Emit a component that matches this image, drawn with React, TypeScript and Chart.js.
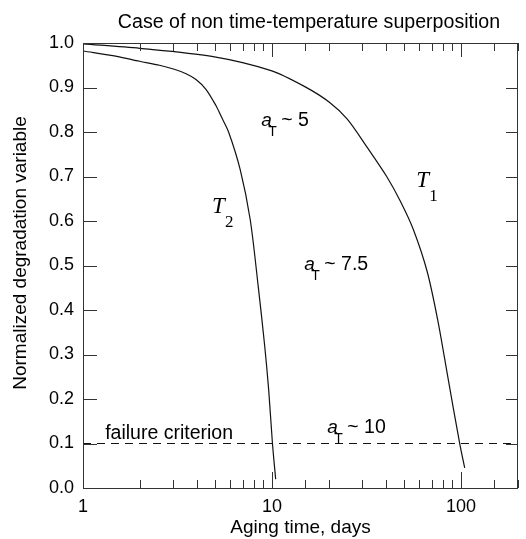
import React, { useEffect, useRef } from 'react';
import { Chart, registerables } from 'chart.js';

Chart.register(...registerables);

// ---- data ----
const t1Days = [1, 2, 4.8, 9.88, 14.9, 20.1, 25, 31.8, 40.4, 47.8, 55.9, 66.2, 75.5, 85.2, 98.4, 104.5];
const t1Values = [0.998, 0.988, 0.97, 0.938, 0.902, 0.867, 0.829, 0.766, 0.7, 0.644, 0.581, 0.486, 0.374, 0.248, 0.099, 0.045];
const t2Days = [1, 1.51, 1.99, 2.54, 3.04, 3.51, 3.96, 4.47, 5.04, 5.41, 5.89, 6.78, 7.66, 8.45, 9.15, 9.6, 10.05, 10.45];
const t2Values = [0.982, 0.97, 0.959, 0.95, 0.941, 0.931, 0.918, 0.896, 0.86, 0.833, 0.8, 0.716, 0.604, 0.453, 0.318, 0.22, 0.1, 0.02];
const failureDays = [1, 200];
const failureValues = [0.1, 0.1];
const xMajorTicks = [1, 10, 100];
const xRange = [1, 200];
const yRange = [0, 1];

const titleText = 'Case of non time-temperature superposition';
const xTitle = 'Aging time, days';
const yTitle = 'Normalized degradation variable';

// annotations: [x (days), y (value), rest text]
const aTLabels: [number, number, string][] = [
  [8.77, 0.813, '~ 5'],
  [14.8, 0.491, '~ 7.5'],
  [19.6, 0.124, '~ 10'],
];
const failureLabel: [number, number, string] = [1.31, 0.11, 'failure criterion'];
const tempLabels: [number, number, string][] = [
  [58, 0.676, '1'],
  [4.81, 0.619, '2'],
];

const SANS = '"Liberation Sans", Arial, Helvetica, sans-serif';
const SERIF = '"Liberation Serif", "Times New Roman", Times, serif';

const toXY = (xs: number[], ys: number[]) => xs.map((x, i) => ({ x, y: ys[i] }));

const decorPlugin = {
  id: 'decor',
  afterDraw(chart: any) {
    const { ctx, chartArea: ca } = chart;
    const xs = chart.scales.x;
    const ys = chart.scales.y;
    ctx.save();
    // frame
    ctx.strokeStyle = '#333';
    ctx.lineWidth = 1;
    ctx.strokeRect(ca.left + 0.5, ca.top + 0.5, ca.right - ca.left - 1, ca.bottom - ca.top);
    // x ticks (inward, bottom and top)
    ctx.beginPath();
    xs.ticks.forEach((t: any) => {
      const v = t.value;
      if (v < xRange[0] || v > xRange[1]) return;
      const px = Math.round(xs.getPixelForValue(v)) + 0.5;
      const major = xMajorTicks.includes(v);
      const lb = major ? 16 : 8;
      const lt = major ? 14 : 8;
      ctx.moveTo(px, ca.bottom);
      ctx.lineTo(px, ca.bottom - lb);
      ctx.moveTo(px, ca.top);
      ctx.lineTo(px, ca.top + lt);
    });
    // y ticks
    ys.ticks.forEach((t: any) => {
      const py = Math.round(ys.getPixelForValue(t.value)) + 0.5;
      ctx.moveTo(ca.left, py);
      ctx.lineTo(ca.left + 14, py);
      ctx.moveTo(ca.right, py);
      ctx.lineTo(ca.right - 12, py);
    });
    ctx.stroke();

    ctx.fillStyle = '#000';
    // title
    ctx.font = `19.6px ${SANS}`;
    ctx.textAlign = 'center';
    ctx.textBaseline = 'alphabetic';
    ctx.fillText(titleText, 309, 28);
    // x title
    ctx.font = `19px ${SANS}`;
    ctx.fillText(xTitle, (ca.left + ca.right) / 2, 533);
    // y title
    ctx.save();
    ctx.translate(26, 253);
    ctx.rotate(-Math.PI / 2);
    ctx.fillText(yTitle, 0, 0);
    ctx.restore();

    // failure criterion
    ctx.textAlign = 'left';
    ctx.font = `19.5px ${SANS}`;
    ctx.fillText(failureLabel[2], xs.getPixelForValue(failureLabel[0]), ys.getPixelForValue(failureLabel[1]));

    // a_T labels
    aTLabels.forEach(([xv, yv, rest]) => {
      const px = xs.getPixelForValue(xv);
      const py = ys.getPixelForValue(yv);
      ctx.font = `italic 19px ${SANS}`;
      ctx.fillText('a', px, py);
      ctx.font = `14px ${SANS}`;
      ctx.fillText('T', px + 7, py + 10);
      ctx.font = `19.5px ${SANS}`;
      ctx.fillText(rest, px + 20, py);
    });

    // T_1, T_2
    tempLabels.forEach(([xv, yv, sub]) => {
      const px = xs.getPixelForValue(xv);
      const py = ys.getPixelForValue(yv);
      ctx.font = `italic 23px ${SERIF}`;
      ctx.fillText('T', px, py);
      ctx.font = `17px ${SERIF}`;
      ctx.fillText(sub, px + 13, py + 14);
    });
    ctx.restore();
  },
};

export default function App() {
  const ref = useRef<HTMLCanvasElement | null>(null);
  useEffect(() => {
    document.body.style.margin = '0';
    const canvas = ref.current;
    if (!canvas) return;
    const lineStyle = {
      borderColor: '#111',
      borderWidth: 1.2,
      pointRadius: 0,
      fill: false,
      tension: 0.3,
    };
    const chart = new Chart(canvas, {
      type: 'line',
      data: {
        datasets: [
          { label: 'T1', data: toXY(t1Days, t1Values), ...lineStyle },
          { label: 'T2', data: toXY(t2Days, t2Values), ...lineStyle },
          {
            label: 'failure criterion',
            data: toXY(failureDays, failureValues),
            borderColor: '#111',
            borderWidth: 1,
            borderDash: [8, 6],
            pointRadius: 0,
            fill: false,
            tension: 0,
          },
        ],
      },
      options: {
        responsive: false,
        animation: false,
        layout: { padding: { top: 43, right: 3, left: 0, bottom: 0 } },
        plugins: { legend: { display: false }, tooltip: { enabled: false }, title: { display: false } },
        scales: {
          x: {
            type: 'logarithmic',
            min: xRange[0],
            max: xRange[1],
            grid: { display: false, drawTicks: false },
            border: { display: false },
            ticks: {
              autoSkip: false,
              maxRotation: 0,
              color: '#000',
              font: { size: 18, family: SANS },
              padding: 8,
              callback: (v: any) => (xMajorTicks.includes(Number(v)) ? String(v) : ''),
            },
            afterFit: (s: any) => {
              s.height = 51;
            },
          },
          y: {
            type: 'linear',
            min: yRange[0],
            max: yRange[1],
            grid: { display: false, drawTicks: false },
            border: { display: false },
            ticks: {
              stepSize: 0.1,
              color: '#000',
              font: { size: 18, family: SANS },
              padding: 9,
              callback: (v: any) => Number(v).toFixed(1),
            },
            afterFit: (s: any) => {
              s.width = 83;
            },
          },
        },
      },
      plugins: [decorPlugin],
    });
    return () => chart.destroy();
  }, []);
  return <canvas ref={ref} width={526} height={539} style={{ display: 'block' }} />;
}
